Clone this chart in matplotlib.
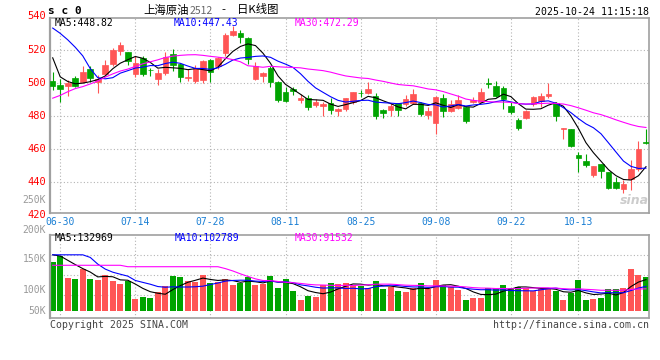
import numpy as np
import pandas as pd
import matplotlib
matplotlib.use('Agg')
import matplotlib.pyplot as plt

plt.rcParams['font.family'] = ['DejaVu Sans Mono']

# trading days 06-27 .. 10-24 (exchange closed 10-01..10-08)
days = pd.bdate_range('2025-06-27', '2025-10-24')
days = days[(days < '2025-10-01') | (days > '2025-10-08')]
dates = [d.strftime('%m-%d') for d in days]

tick_labels = ['06-30', '07-14', '07-28', '08-11', '08-25', '09-08', '09-22', '10-13']
price_ticks = [540, 520, 500, 480, 460, 440, 420]

opens = [501.0, 498.6, 498.0, 503.0, 500.6, 508.4, 500.6, 505.1, 511.5, 518.9,
         518.7, 505.5, 515.0, 507.9, 502.3, 505.9, 517.6, 511.0, 502.7, 501.0,
         501.6, 513.4, 509.8, 517.9, 529.1, 530.1, 527.1, 502.1, 504.1, 508.8,
         500.6, 494.5, 496.0, 489.5, 490.5, 486.4, 486.0, 487.4, 483.1, 483.8,
         488.2, 494.0, 493.8, 492.2, 483.2, 483.2, 487.4, 487.2, 487.8, 487.8,
         480.4, 475.8, 490.8, 482.8, 484.4, 485.2, 488.2, 488.4, 499.6, 498.2,
         496.8, 485.8, 477.4, 478.8, 486.8, 488.8, 492.2, 487.8, 471.8, 472.2,
         456.2, 452.8, 444.2, 450.8, 446.2, 439.8, 435.8, 441.8, 447.8, 464.2]
closes = [498.2, 496.2, 499.6, 498.2, 506.3, 502.7, 502.3, 510.8, 520.0, 523.0,
          513.2, 512.0, 505.3, 507.6, 505.7, 515.7, 510.5, 503.7, 503.6, 508.8,
          512.8, 506.7, 514.9, 529.1, 531.1, 527.7, 514.3, 509.8, 506.1, 500.6,
          489.5, 488.8, 494.8, 491.0, 485.0, 488.4, 487.3, 483.4, 484.0, 490.5,
          494.2, 493.6, 496.2, 479.8, 481.4, 485.8, 483.4, 490.4, 493.4, 481.2,
          482.8, 491.2, 482.8, 486.8, 489.8, 476.8, 489.8, 494.2, 499.2, 491.8,
          490.2, 482.4, 472.8, 482.8, 491.2, 491.8, 493.4, 479.8, 472.4, 461.8,
          454.4, 450.2, 449.4, 446.8, 436.2, 436.2, 438.6, 447.8, 459.8, 463.6]
highs = [506.7, 502.5, 501.6, 503.8, 510.2, 509.8, 504.7, 513.9, 521.0, 524.5,
         518.7, 515.9, 516.0, 509.0, 508.2, 518.5, 520.5, 511.8, 508.0, 510.5,
         513.5, 514.0, 515.5, 530.0, 534.1, 532.1, 527.5, 512.5, 506.5, 509.8,
         501.0, 497.6, 497.6, 493.2, 492.5, 490.0, 488.0, 490.5, 484.5, 491.0,
         494.5, 495.8, 500.2, 493.8, 484.2, 487.8, 487.4, 492.8, 496.4, 488.4,
         485.2, 491.8, 493.2, 489.8, 492.4, 485.8, 491.5, 496.8, 502.8, 500.8,
         498.0, 488.2, 478.8, 483.4, 491.8, 493.8, 499.8, 488.2, 472.8, 472.2,
         457.8, 456.8, 449.8, 450.8, 446.2, 442.8, 441.4, 453.4, 464.8, 471.8]
lows = [495.5, 488.4, 491.9, 497.6, 499.6, 500.6, 493.5, 503.8, 509.8, 517.0,
        510.8, 503.7, 503.8, 504.0, 498.6, 504.5, 507.0, 500.6, 501.0, 499.6,
        500.0, 500.6, 508.0, 516.0, 528.5, 524.0, 511.0, 501.4, 500.6, 497.6,
        488.5, 488.4, 492.5, 487.4, 483.4, 485.0, 480.0, 480.9, 479.8, 483.0,
        487.0, 491.2, 493.2, 477.8, 478.4, 479.8, 479.6, 485.8, 486.8, 480.0,
        478.2, 468.8, 479.4, 482.2, 483.8, 475.4, 487.6, 488.0, 496.8, 491.4,
        483.8, 480.8, 471.4, 478.2, 485.8, 485.2, 490.8, 476.8, 465.8, 461.2,
        445.8, 448.8, 442.8, 442.4, 435.4, 435.8, 433.0, 434.8, 446.8, 463.0]

# volume in thousands of lots
volume_k = [207, 232, 140, 134, 178, 134, 130, 151, 126, 113,
            126, 50, 60, 56, 81, 105, 148, 143, 126, 123,
            151, 119, 123, 136, 109, 116, 144, 109, 112, 147,
            98, 134, 84, 46, 64, 60, 109, 118, 113, 119,
            109, 105, 98, 126, 92, 102, 84, 80, 95, 119,
            92, 130, 109, 102, 88, 46, 56, 56, 98, 98,
            109, 98, 102, 98, 84, 92, 98, 84, 46, 74,
            130, 46, 50, 56, 92, 92, 98, 176, 150, 143]

# moving averages before the window is full (history not on the chart)
ma5_head = [515.0, 503.5, 500.7, 499.3]
ma10_head = [533.0, 529.8, 525.9, 521.4, 516.2, 508.5, 503.0, 502.3, 503.0]
ma30_head = [490.6, 492.3, 494.5, 496.4, 497.6, 499.2, 501.0, 503.3, 505.3, 507.0,
             508.2, 509.8, 511.4, 512.6, 513.8, 515.2, 516.0, 516.5, 516.8, 516.9,
             516.5, 515.9, 515.4, 514.8, 513.9, 512.6, 510.2, 509.8, 509.3]
vma5_head = [236, 231, 213, 195]
vma10_head = [236, 236, 236, 236, 236, 225, 197, 176, 163]
vma30_head = [192, 192, 192, 192, 192, 192, 192, 192, 192, 192,
              186, 186, 186, 186, 186, 186, 186, 186, 186, 186,
              186, 186, 186, 178, 168, 156, 145, 135, 128]

RED = '#ff5555'
GREEN = '#00a400'
GRID = '#b4b4b4'
FRAME = '#a0a0a0'


def moving_avg(values, n, head):
    out = pd.Series(values, dtype=float).rolling(n).mean().to_numpy()
    out[:len(head)] = head
    return out


o = np.array(opens)
c = np.array(closes)
h = np.array(highs)
l = np.array(lows)
vol = np.array(volume_k) * 1000
x = np.arange(len(dates))
colors = np.where(c >= o, RED, GREEN)
tick_pos = [dates.index(t) for t in tick_labels]

W, H = 660, 360


def fx(px):
    return px / W


def fy(py):
    return 1 - py / H


fig = plt.figure(figsize=(6.6, 3.6), dpi=100)
ax = fig.add_axes([fx(50), fy(213.3), (649.3 - 50) / W, (213.3 - 18.3) / H])
axv = fig.add_axes([fx(50), fy(318.3), (649.3 - 50) / W, (318.3 - 234.7) / H])

# candles
ax.vlines(x, l, h, colors=colors, lw=0.8, zorder=2)
ax.bar(x, np.abs(c - o), bottom=np.minimum(o, c), width=0.74,
       color=colors, edgecolor=colors, lw=0.5, zorder=3)
ax.plot(x, moving_avg(c, 5, ma5_head), color='black', lw=0.8, zorder=4)
ax.plot(x, moving_avg(c, 10, ma10_head), color='#0000ff', lw=0.8, zorder=4)
ax.plot(x, moving_avg(c, 30, ma30_head), color='#ff00ff', lw=0.8, zorder=4)

ax.set_xlim(-0.36, 79.44)
ax.set_ylim(421.0, 538.9)
ax.set_xticks(tick_pos)
ax.set_xticklabels(tick_labels)
ax.set_yticks(price_ticks[1:-1])
ax.set_yticklabels([])
ax.tick_params(axis='both', length=0)
ax.tick_params(axis='x', pad=2.5, labelsize=7, labelcolor='#1a7fd4')
ax.grid(True, color=GRID, ls=(0, (1, 2)), lw=0.8)
for p in price_ticks:
    ax.text(-0.0068, p, str(p), transform=ax.get_yaxis_transform(), ha='right',
            va='center', color='#ff0000', fontsize=7.5, clip_on=False)

# volume
axv.bar(x, vol, width=0.8, color=colors, zorder=2)
axv.plot(x, moving_avg(volume_k, 5, vma5_head) * 1000, color='black', lw=0.8, zorder=3)
axv.plot(x, moving_avg(volume_k, 10, vma10_head) * 1000, color='#0000ff', lw=0.8, zorder=3)
axv.plot(x, moving_avg(volume_k, 30, vma30_head) * 1000, color='#ff00ff', lw=0.8, zorder=3)
px_per_vol = 4200  # lots per pixel
axv.set_xlim(-0.36, 79.44)
axv.set_ylim((311 - 318.3) * px_per_vol, (311 - 234.7) * px_per_vol)
axv.set_xticks(tick_pos)
axv.set_xticklabels([])
axv.set_yticks([(311 - p) * px_per_vol for p in (255.3, 275.3, 295.3)])
axv.set_yticklabels([])
axv.tick_params(axis='both', length=0)
axv.grid(True, color=GRID, ls=(0, (1, 2)), lw=0.8)

for a in (ax, axv):
    for s in a.spines.values():
        s.set_color(FRAME)
        s.set_linewidth(1.2)
    a.spines['left'].set_linewidth(1.6)
    a.set_facecolor('white')

vol_labels = ['250K', '200K', '150K', '100K', '50K']
for lab, py in zip(vol_labels, (200.3, 230.5, 259.5, 290.0, 311.5)):
    fig.text(fx(46), fy(py), lab, ha='right', va='center', color='#9a9a9a', fontsize=7)

# header
fig.text(fx(48), fy(11.5), 's c 0', fontsize=8, fontweight='bold', va='center')
cjk = ['Noto Sans CJK SC', 'DejaVu Sans']
fig.text(fx(143), fy(10), '上海原油', family=cjk, fontsize=8.2, va='center')
fig.text(fx(189.5), fy(10.5), '2512', family=cjk, fontsize=7.5, va='center', color='#666666')
fig.text(fx(221), fy(10), '-', family=cjk, fontsize=8.2, va='center')
fig.text(fx(237), fy(10), '日K线图', family=cjk, fontsize=8.2, va='center')
fig.text(fx(649), fy(11.7), '2025-10-24 11:15:18', ha='right', va='center', fontsize=7.1)

fig.text(fx(55), fy(23.5), 'MA5:448.82', color='black', fontsize=7, va='center')
fig.text(fx(174), fy(23.5), 'MA10:447.43', color='#0000ff', fontsize=7, va='center')
fig.text(fx(295), fy(23.5), 'MA30:472.29', color='#ff00ff', fontsize=7, va='center')
fig.text(fx(54.7), fy(238), 'MA5:132969', color='black', fontsize=7, va='center')
fig.text(fx(174.7), fy(238), 'MA10:102789', color='#0000ff', fontsize=7, va='center')
fig.text(fx(294.7), fy(238), 'MA30:91532', color='#ff00ff', fontsize=7, va='center')

fig.text(fx(649), fy(201), 'sina', ha='right', va='center', fontsize=9, family='DejaVu Sans',
         fontstyle='italic', fontweight='bold', color='#cccccc')

fig.text(fx(50), fy(324.5), 'Copyright 2025 SINA.COM', fontsize=7.1, va='center', color='#444444')
fig.text(fx(649), fy(324.5), 'http://finance.sina.com.cn', ha='right', fontsize=7.1,
         va='center', color='#444444')

fig.savefig('out.png', dpi=100, facecolor='white')
